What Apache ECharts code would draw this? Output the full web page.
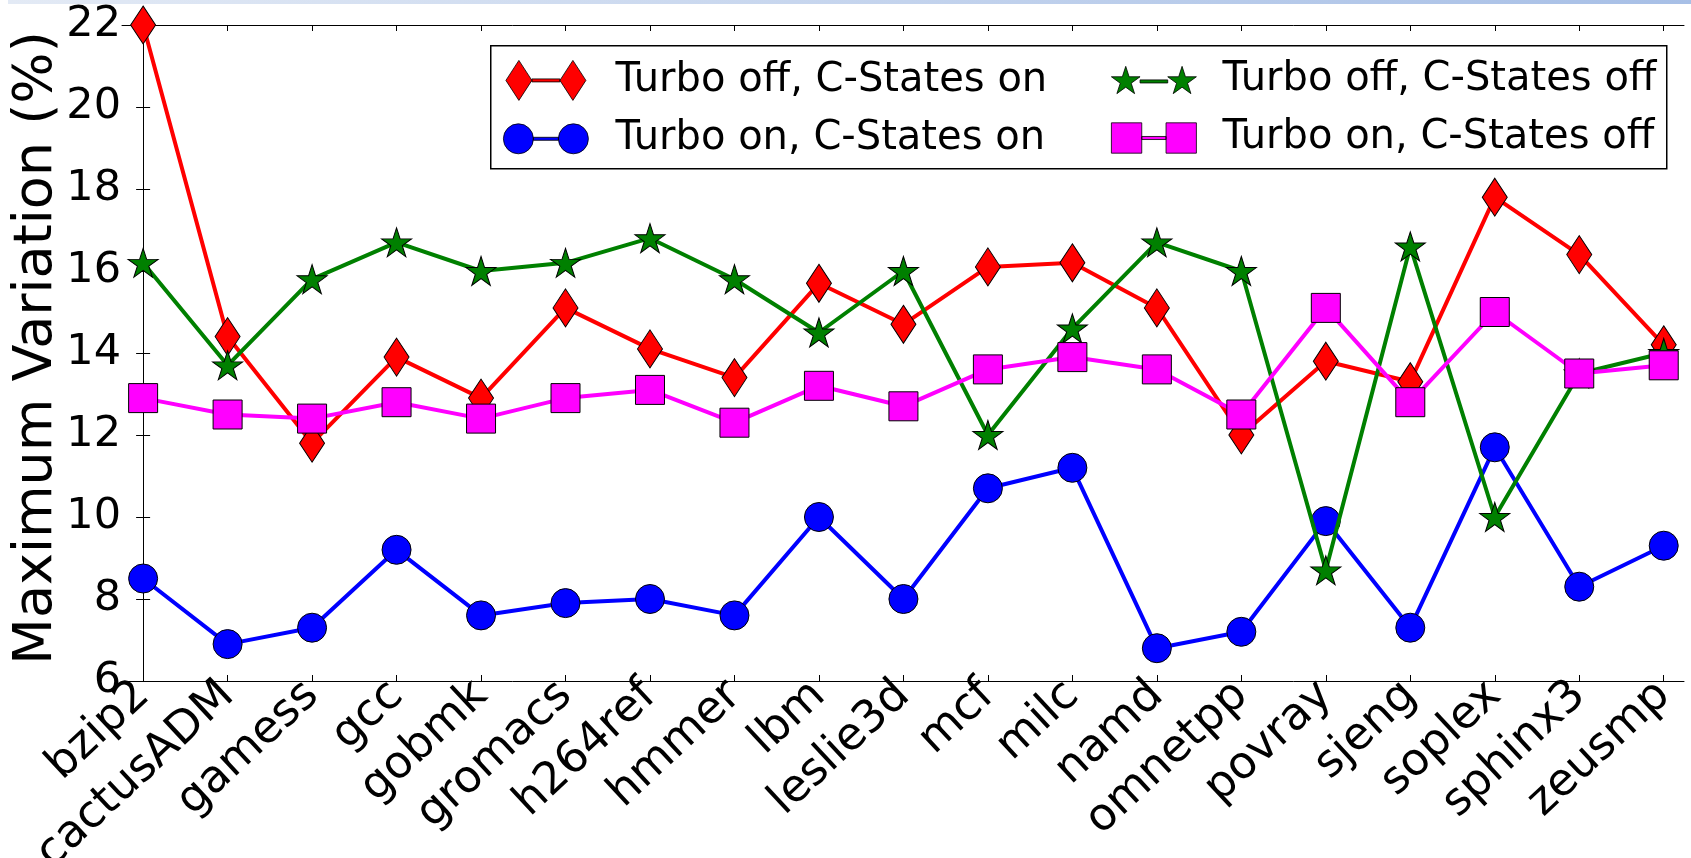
<!DOCTYPE html>
<html>
<head>
<meta charset="utf-8">
<script src="https://cdn.jsdelivr.net/npm/echarts@6/dist/echarts.min.js"></script>
<style>
html,body{margin:0;padding:0;background:#fff;}
#chart{width:1691px;height:858px;}
</style>
</head>
<body>
<div id="chart"></div>
<script>
// ---- data ----
const categories = ['bzip2','cactusADM','gamess','gcc','gobmk','gromacs','h264ref','hmmer','lbm','leslie3d','mcf','milc','namd','omnetpp','povray','sjeng','soplex','sphinx3','zeusmp'];
const turboOffCOn  = [22, 14.4, 11.8, 13.9, 12.9, 15.1, 14.1, 13.4, 15.7, 14.7, 16.1, 16.2, 15.1, 12.0, 13.8, 13.3, 17.8, 16.4, 14.2];
const turboOnCOn   = [8.5, 6.9, 7.3, 9.2, 7.6, 7.9, 8.0, 7.6, 10.0, 8.0, 10.7, 11.2, 6.8, 7.2, 9.9, 7.3, 11.7, 8.3, 9.3];
const turboOffCOff = [16.2, 13.7, 15.8, 16.7, 16.0, 16.2, 16.8, 15.8, 14.5, 16.0, 12.0, 14.6, 16.7, 16.0, 8.7, 16.6, 10.0, 13.5, 14.0];
const turboOnCOff  = [12.9, 12.5, 12.4, 12.8, 12.4, 12.9, 13.1, 12.3, 13.2, 12.7, 13.6, 13.9, 13.6, 12.5, 15.1, 12.8, 15.0, 13.5, 13.7];
const seriesNames = ['Turbo off, C-States on','Turbo on, C-States on','Turbo off, C-States off','Turbo on, C-States off'];
const yTicks = [6, 8, 10, 12, 14, 16, 18, 20, 22];

// ---- styling helpers ----
const FONT = 'DejaVu Sans';
const catIdx = categories.map((c, i) => i);
function pairs(arr) { return arr.map((v, i) => [i, v]); }

const starMain = 'path://M50,0 L61.23,34.55 L97.55,34.55 L68.17,55.9 L79.39,90.45 L50,69.1 L20.61,90.45 L31.83,55.9 L2.45,34.55 L38.77,34.55 Z';
function starAt(ox) {
  const p = [[14,0],[17.3,10.17],[28,10.17],[19.35,16.46],[22.65,26.63],[14,20.34],[5.35,26.63],[8.65,16.46],[0,10.17],[10.69,10.17]];
  return 'M' + p.map(q => (q[0] + ox).toFixed(2) + ',' + q[1].toFixed(2)).join(' L') + ' Z';
}
const iconDiamond = 'path://M13,0 L26,20 L13,40 L0,20 Z M67,0 L80,20 L67,40 L54,20 Z M26,18.5 L54,18.5 L54,21.5 L26,21.5 Z';
const iconCircle = 'path://M0,15 A15,15 0 1 1 30,15 A15,15 0 1 1 0,15 Z M55,15 A15,15 0 1 1 85,15 A15,15 0 1 1 55,15 Z M30,13.5 L55,13.5 L55,16.5 L30,16.5 Z';
const iconStar = 'path://' + starAt(0) + ' ' + starAt(55) + ' M28,13.2 L55,13.2 L55,16.2 L28,16.2 Z';
const iconSquare = 'path://M0,0 L30,0 L30,30 L0,30 Z M54,0 L84,0 L84,30 L54,30 Z M30,13.5 L54,13.5 L54,16.5 L30,16.5 Z';

function lineSeries(name, data, color, symbol, size, z) {
  return {
    name: name, type: 'line', data: pairs(data), z: z,
    symbol: symbol, symbolSize: size, showSymbol: true, clip: false,
    lineStyle: { color: color, width: 4 },
    itemStyle: { color: color, borderColor: '#000', borderWidth: 1 },
    emphasis: { disabled: true },
    animation: false
  };
}

const legendText = { fontSize: 40, fontFamily: FONT, color: '#000', lineHeight: 40 };

const option = {
  backgroundColor: '#fff',
  animation: false,
  graphic: [
    { type: 'rect', left: 8, top: 0, z: 0, shape: { width: 1683, height: 4 },
      style: { fill: { type: 'linear', x: 0, y: 0, x2: 1, y2: 0, colorStops: [{ offset: 0, color: '#e3eaf5' }, { offset: 1, color: '#a7bfe6' }] } } },
    { type: 'rect', left: 490, top: 45, z: 1, shape: { width: 1176, height: 123 },
      style: { fill: '#fff', stroke: '#000', lineWidth: 1.5 } }
  ],
  legend: [
    { orient: 'vertical', left: 503, top: 60, padding: 0, itemWidth: 85, itemHeight: 40, itemGap: 18, z: 5,
      symbolKeepAspect: true, selectedMode: false, itemStyle: { borderWidth: 0.8 },
      textStyle: Object.assign({ padding: [0, 0, 0, 22] }, legendText),
      data: [{ name: seriesNames[0], icon: iconDiamond }, { name: seriesNames[1], icon: iconCircle }] },
    { orient: 'vertical', left: 1111, top: 60, padding: 0, itemWidth: 85, itemHeight: 40, itemGap: 18, z: 5,
      symbolKeepAspect: true, selectedMode: false, itemStyle: { borderWidth: 0.8 },
      textStyle: Object.assign({ padding: [0, 0, 0, 21] }, legendText),
      data: [{ name: seriesNames[2], icon: iconStar }, { name: seriesNames[3], icon: iconSquare }] }
  ],
  grid: { left: 122, right: 7, top: 25, bottom: 177, outerBoundsMode: 'none', containLabel: false },
  xAxis: [
    { type: 'value', position: 'bottom', min: -0.25, max: 18.24,
      axisLine: { show: true, lineStyle: { color: '#000', width: 1 } },
      axisTick: { show: true, inside: true, length: 6, customValues: catIdx, lineStyle: { color: '#000' } },
      axisLabel: { show: true, customValues: catIdx, rotate: 43, margin: 8, fontSize: 45, fontFamily: FONT, color: '#000',
        formatter: v => categories[Math.round(v)] },
      splitLine: { show: false } },
    { type: 'value', position: 'top', min: -0.25, max: 18.24,
      axisLine: { show: true, lineStyle: { color: '#000', width: 1 } },
      axisTick: { show: true, inside: true, length: 6, customValues: catIdx, lineStyle: { color: '#000' } },
      axisLabel: { show: false },
      splitLine: { show: false } }
  ],
  yAxis: [
    { type: 'value', position: 'left', min: 6, max: 22, interval: 2,
      name: 'Maximum Variation (%)', nameLocation: 'middle', nameGap: 58, nameMoveOverlap: false,
      nameTextStyle: { fontSize: 54, fontFamily: FONT, color: '#000', padding: [0, 0, 0, 10] },
      axisLine: { show: true, lineStyle: { color: '#000', width: 1 } },
      axisTick: { show: true, inside: true, length: 7, lineStyle: { color: '#000' } },
      axisLabel: { fontSize: 43, fontFamily: FONT, color: '#000', margin: 1, formatter: v => String(v) },
      splitLine: { show: false } },
    { type: 'value', position: 'right', min: 6, max: 22, interval: 2,
      axisLine: { show: true, lineStyle: { color: '#000', width: 1 } },
      axisTick: { show: true, inside: true, length: 7, lineStyle: { color: '#000' } },
      axisLabel: { show: false },
      splitLine: { show: false } }
  ],
  series: [
    lineSeries(seriesNames[0], turboOffCOn, '#ff0000', 'diamond', [25, 38], 2),
    lineSeries(seriesNames[1], turboOnCOn, '#0000ff', 'circle', 29, 3),
    lineSeries(seriesNames[2], turboOffCOff, '#008000', starMain, [30, 29], 4),
    lineSeries(seriesNames[3], turboOnCOff, '#ff00ff', 'rect', 29, 5)
  ]
};

const chart = echarts.init(document.getElementById('chart'), null, { renderer: 'canvas' });
chart.setOption(option);
</script>
</body>
</html>
